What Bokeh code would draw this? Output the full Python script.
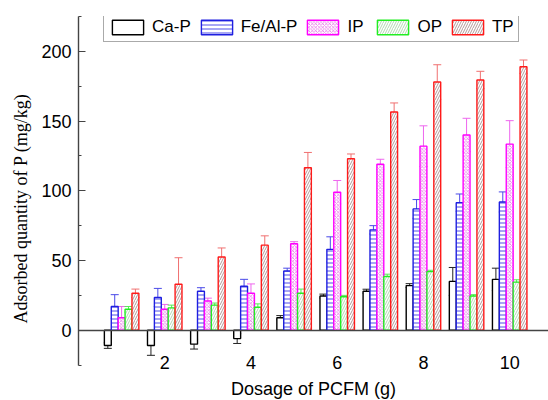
from bokeh.plotting import figure
from bokeh.models import ColumnDataSource, Whisker, TeeHead, FixedTicker, Range1d
from bokeh.embed import file_html
from bokeh.resources import INLINE

# ---- data ----
dosage = [1, 2, 3, 4, 5, 6, 7, 8, 9, 10]
series_names = ["Ca-P", "Fe/Al-P", "IP", "OP", "TP"]
ca_p = [-11, -11, -10, -6, 9, 24.5, 28, 32, 35, 36.5]
ca_p_err = [2, 7, 3.5, 3.5, 1.5, 1.4, 1.4, 1.4, 10, 8]
fe_al_p = [17, 23.5, 28, 31.5, 42.5, 58, 72, 87, 91.5, 92]
fe_al_p_err = [8.5, 6.5, 2.5, 5, 2, 9, 3, 6.7, 6.2, 7.2]
ip = [9, 15, 21, 26.5, 62, 99, 119, 132, 140, 133.5]
ip_err = [8, 3.5, 2, 6.7, 1.5, 8.4, 3.6, 14.6, 12, 16.8]
op = [15, 16, 18, 16.5, 26.5, 24, 38.5, 42, 24.5, 34.5]
op_err = [2, 2, 1.5, 2.4, 3, 1, 1.7, 1, 1, 1.7]
tp = [26.5, 33, 52.5, 61, 116.5, 123, 156.5, 178, 179.5, 189]
tp_err = [3, 19, 6.5, 6.7, 11, 3.4, 6.5, 12.4, 6.2, 4.8]
y_ticks = [0, 50, 100, 150, 200]
y_minor = [-25, 25, 75, 125, 175, 225]
y_axis_bounds = (-25, 225)
x_ticks = [2, 4, 6, 8, 10]

values = [ca_p, fe_al_p, ip, op, tp]
errors = [ca_p_err, fe_al_p_err, ip_err, op_err, tp_err]

# ---- styles ----
bar_w = 0.16
offsets = [-0.32, -0.16, 0.0, 0.16, 0.32]
line_colors = ["#000000", "#1f1fe0", "#ff00ff", "#22ee22", "#ff1a1a"]
err_colors = ["#222222", "#4a4ae8", "#ee66ee", "#55ee55", "#f07070"]
hatches = [" ", "-", "x", "/", "/"]
hatch_colors = ["#000000", "#3a3ae8", "#e040e0", "#9fcf9f", "#a08080"]
hatch_scales = [4, 4, 3.5, 5, 5]
hatch_weights = [0.8, 0.9, 0.6, 0.8, 0.8]

# frame extends to the bottom of the page so the x-axis labels (drawn at y=0) are not clipped
p = figure(width=548, height=400, output_backend="svg", toolbar_location=None,
           x_range=Range1d(0, 10.9), y_range=Range1d(-50.4, 225),
           min_border_left=78, min_border_right=0, min_border_top=16,
           min_border_bottom=0)
p.outline_line_color = None
p.grid.visible = False
p.background_fill_color = "white"

for i, name in enumerate(series_names):
    xs = [d + offsets[i] for d in dosage]
    v = values[i]
    e = errors[i]
    src = ColumnDataSource(dict(x=xs, top=v,
                                upper=[a + b for a, b in zip(v, e)],
                                lower=[a - b for a, b in zip(v, e)]))
    p.vbar(x="x", top="top", bottom=0, width=bar_w, source=src,
           fill_color="white", line_color=line_colors[i], line_width=1.4,
           hatch_pattern=hatches[i], hatch_color=hatch_colors[i],
           hatch_scale=hatch_scales[i], hatch_weight=hatch_weights[i],
           legend_label=name)
    w = Whisker(base="x", upper="upper", lower="lower", source=src,
                line_color=err_colors[i], line_width=1,
                upper_head=TeeHead(size=8, line_color=err_colors[i], line_width=1),
                lower_head=TeeHead(size=8, line_color=err_colors[i], line_width=1))
    p.add_layout(w)

# y axis
ya = p.yaxis[0]
ya.bounds = y_axis_bounds
ya.ticker = FixedTicker(ticks=y_ticks, minor_ticks=y_minor)
ya.major_tick_in = 7
ya.major_tick_out = 0
ya.minor_tick_in = 3
ya.minor_tick_out = 0
ya.axis_line_color = "#444444"
ya.axis_line_width = 1.4
ya.major_tick_line_color = "#444444"
ya.minor_tick_line_color = "#444444"
ya.major_label_text_font = "Liberation Sans"
ya.major_label_text_font_size = "18px"
ya.major_label_text_color = "black"
ya.major_label_standoff = 7
ya.axis_label = "Adsorbed quantity of P (mg/kg)"
ya.axis_label_text_font = "Liberation Serif"
ya.axis_label_text_font_style = "normal"
ya.axis_label_text_font_size = "18px"
ya.axis_label_text_color = "black"
ya.axis_label_standoff = 7

# x axis drawn at y = 0
xa = p.xaxis[0]
xa.fixed_location = 0
xa.ticker = FixedTicker(ticks=x_ticks)
xa.major_tick_in = 0
xa.major_tick_out = 0
xa.minor_tick_in = 0
xa.minor_tick_out = 0
xa.axis_line_color = "#444444"
xa.axis_line_width = 1.4
xa.major_label_text_font = "Liberation Sans"
xa.major_label_text_font_size = "18px"
xa.major_label_text_color = "black"
xa.major_label_standoff = 26
xa.axis_label = "Dosage of PCFM (g)"
xa.axis_label_text_font = "Liberation Sans"
xa.axis_label_text_font_style = "normal"
xa.axis_label_text_font_size = "18px"
xa.axis_label_text_color = "black"
xa.axis_label_standoff = 6

lg = p.legend[0]
lg.orientation = "horizontal"
lg.location = (25, 358)
lg.glyph_width = 39
lg.glyph_height = 18
lg.label_height = 18
lg.label_standoff = 5
lg.spacing = 6
lg.padding = 4
lg.margin = 0
lg.label_text_font = "Liberation Sans"
lg.label_text_font_size = "17px"
lg.label_text_color = "black"
lg.border_line_color = "#555555"
lg.border_line_width = 1
lg.background_fill_alpha = 1

open("out.html", "w").write(file_html(p, INLINE))
